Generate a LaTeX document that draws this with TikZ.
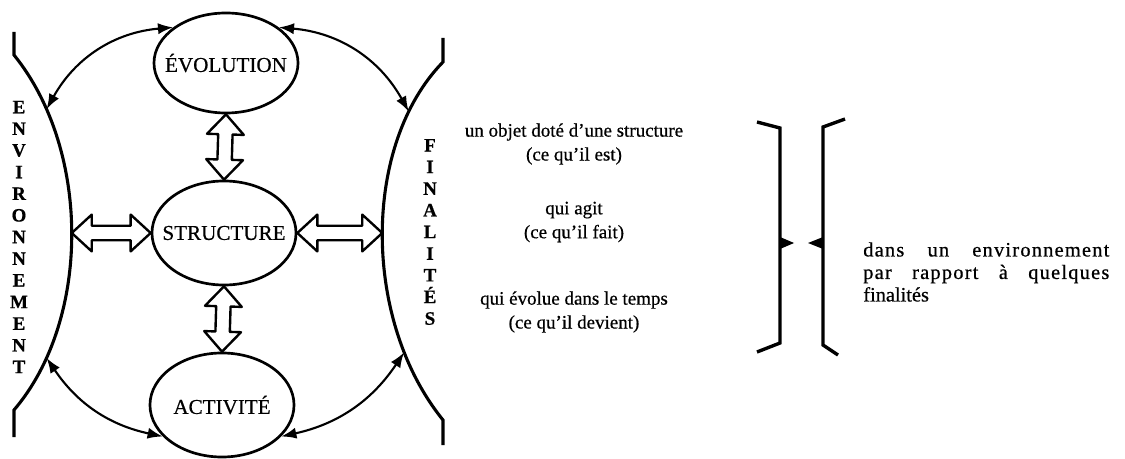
\documentclass[tikz,border=0pt]{standalone}
\usepackage{fontspec}
\setmainfont{Liberation Serif}[FakeBold=0.6]
\usetikzlibrary{shapes.geometric,arrows.meta,calc}

\tikzset{
	pole/.style = {draw, ellipse, line width=1.9pt, minimum width=36mm, minimum height=25mm, inner sep=0pt, font=\fontsize{15}{18}\selectfont},
	side/.style = {line width=2.2pt},
	link/.style = {line width=1.5pt, {Latex[length=3.8mm,width=2.8mm]}-{Latex[length=3.8mm,width=2.8mm]}},
	hollow/.style = {draw, fill=white, line width=1.7pt, line join=round, to path={
		-- ($(\tikztostart)!5mm!(\tikztotarget)!4.6mm!90:(\tikztotarget)$)
		-- ($(\tikztostart)!5mm!(\tikztotarget)!1.8mm!90:(\tikztotarget)$)
		-- ($(\tikztotarget)!5mm!(\tikztostart)!1.8mm!-90:(\tikztostart)$)
		-- ($(\tikztotarget)!5mm!(\tikztostart)!4.6mm!-90:(\tikztostart)$)
		-- (\tikztotarget)
		-- ($(\tikztotarget)!5mm!(\tikztostart)!4.6mm!90:(\tikztostart)$)
		-- ($(\tikztotarget)!5mm!(\tikztostart)!1.8mm!90:(\tikztostart)$)
		-- ($(\tikztostart)!5mm!(\tikztotarget)!1.8mm!-90:(\tikztotarget)$)
		-- ($(\tikztostart)!5mm!(\tikztotarget)!4.6mm!-90:(\tikztotarget)$)
		-- cycle}},
	vert/.style = {align=center, inner sep=0pt, font=\fontsize{13.5}{15.4}\selectfont\bfseries},
	gloss/.style = {align=center, font=\fontsize{13.5}{17}\selectfont},
	brk/.style = {line width=2.4pt}
}

\begin{document}
\begin{tikzpicture}[x=0.025cm, y=-0.025cm]
	\useasboundingbox (0,0) rectangle (1125,459);

	% environnement / finalites
	\draw [side] (14,32) -- (14,55) .. controls (91,150) and (91,320) .. (14,410)
		coordinate [pos=0.17] (lct) coordinate [pos=0.5] (lcm) coordinate [pos=0.83] (lcb) -- (14,437);
	\draw [side] (443,38) -- (443,62) .. controls (362,145) and (362,320) .. (443,420)
		coordinate [pos=0.17] (rct) coordinate [pos=0.5] (rcm) coordinate [pos=0.8] (rcb) -- (443,445);
	\node [vert] (env) at (19,237) {E\\N\\V\\I\\R\\O\\N\\N\\E\\M\\E\\N\\T};
	\node [vert] (fin) at (430,232) {F\\I\\N\\A\\L\\I\\T\\É\\S};

	% les trois poles
	\node [pole] (evo) at (226,63) {\makebox[0pt]{ÉVOLUTION}};
	\node [pole, minimum height=26mm] (str) at (224,233) {\makebox[0pt]{STRUCTURE}};
	\node [pole, minimum height=26mm] (act) at (222,405) {\makebox[0pt]{ACTIVITÉ}};

	\draw [hollow] (evo.south) to (str.north);
	\draw [hollow] (str.south) to (act.north);
	\draw [hollow] (str.west -| lcm) to (str.west);
	\draw [hollow] (str.east) to (str.east -| rcm);

	\draw [link] (evo.146) to [bend right=28] (lct);
	\draw [link] (evo.34) to [bend left=28] (rct);
	\draw [link] (lcb) to [bend right=22] (act.208);
	\draw [link] (act.332) to [bend right=22] (rcb);

	% definition
	\node [gloss] (est) at (574,144) {un objet doté d'une structure\\(ce qu'il est)};
	\node [gloss] (fait) at (574,222) {qui agit\\(ce qu'il fait)};
	\node [gloss] (devient) at (574,312) {qui évolue dans le temps\\(ce qu'il devient)};

	\draw [brk] (757,122) -- (780,128) -- (780,343) -- (757,352);
	\fill (780,237) -- (794,243) -- (780,249) -- cycle;
	\draw [brk] (845,119) -- (823,127) -- (823,345) -- (838,355);
	\fill (823,237) -- (808,243) -- (823,249) -- cycle;

	\node [anchor=west, align=left, inner sep=0pt, font=\fontsize{14.5}{16}\selectfont] (cadre) at (863,272)
		{\makebox[61.5mm][s]{\addfontfeature{LetterSpace=6}dans un environnement}\\
		\makebox[61.5mm][s]{\addfontfeature{LetterSpace=6}par rapport à quelques}\\finalités};
\end{tikzpicture}
\end{document}
